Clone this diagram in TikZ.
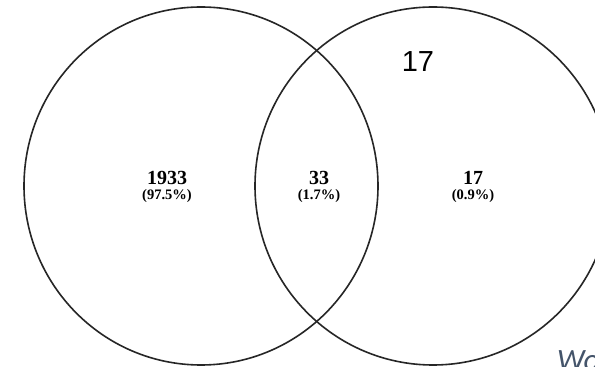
\documentclass[tikz,border=0pt]{standalone}
\usepackage{fontspec}
\setmainfont{Liberation Serif}
\newfontfamily\arialf{Liberation Sans}
\newfontfamily\calif{Carlito}
\definecolor{slateblue}{HTML}{44546A}
\begin{document}
\begin{tikzpicture}[x=1pt,y=1pt,
  setline/.style={line width=1.6pt, draw=black!85},
  numlbl/.style={font=\fontsize{20}{20}\selectfont\bfseries, inner sep=0pt},
  pctlbl/.style={font=\fontsize{14.5}{14.5}\selectfont\bfseries, inner sep=0pt}]
\useasboundingbox (0,0) rectangle (595,367);
\clip (0,0) rectangle (595,367);
\fill[white] (0,0) rectangle (595,367);
\draw[setline] (201,181) ellipse [x radius=177, y radius=179];
\draw[setline] (433,181) ellipse [x radius=178, y radius=179];
\node[numlbl] (a) at (167,189.5) {1933};
\node[pctlbl] (ap) at (167,171) {(97.5\%)};
\node[numlbl] (b) at (319,189.5) {33};
\node[pctlbl] (bp) at (319,171) {(1.7\%)};
\node[numlbl] (c) at (473,189.5) {17};
\node[pctlbl] (cp) at (473,171) {(0.9\%)};
\node[font=\arialf\fontsize{29}{29}\selectfont, inner sep=0pt] (big) at (418,305) {17};
\node[font=\calif\itshape\fontsize{31}{31}\selectfont, text=slateblue, inner sep=0pt, anchor=base west] (wo) at (557,-4) {Wo};
\end{tikzpicture}
\end{document}
